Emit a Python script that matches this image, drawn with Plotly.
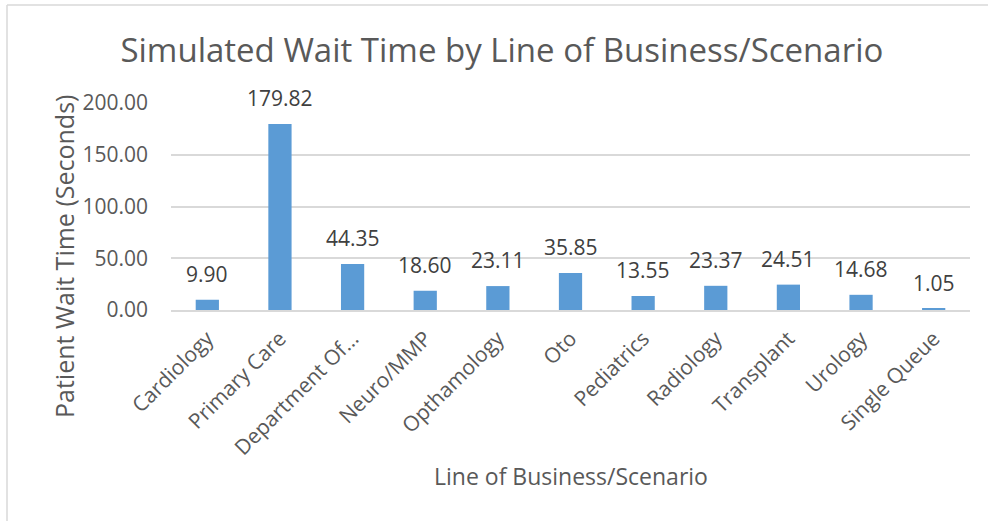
import plotly.graph_objects as go

# Wait time per line of business / scenario
categories = ["Cardiology", "Primary Care", "Department Of...", "Neuro/MMP", "Opthamology",
              "Oto", "Pediatrics", "Radiology", "Transplant", "Urology", "Single Queue"]
wait_seconds = [9.90, 179.82, 44.35, 18.60, 23.11, 35.85, 13.55, 23.37, 24.51, 14.68, 1.05]
y_ticks = [0, 50, 100, 150, 200]
y_tick_labels = ["0.00", "50.00", "100.00", "150.00", "200.00"]

W, H = 988, 521
L, R, T, B = 171, 18, 103, 211
plot_w = W - L - R
plot_h = H - T - B

def px_x(p):
    return (p - L) / plot_w

def px_y(q):
    return (H - B - q) / plot_h

FONT = "Open Sans"
GREY = "#595959"
FRAME = "#D9D9D9"

fig = go.Figure(go.Bar(
    x=categories,
    y=wait_seconds,
    marker=dict(color="#5B9BD5", line=dict(width=0)),
    width=0.32,
    cliponaxis=False,
))

# Value labels above each bar
for cat, val in zip(categories, wait_seconds):
    fig.add_annotation(x=cat, y=val, text=f"{val:.2f}", showarrow=False,
                       xanchor="center", yanchor="bottom", yshift=10,
                       font=dict(family=FONT, size=21, color="#404040"))

fig.update_layout(
    width=W, height=H,
    margin=dict(l=L, r=R, t=T, b=B),
    paper_bgcolor="white",
    plot_bgcolor="white",
    showlegend=False,
    font=dict(family=FONT, color=GREY),
    title=dict(
        text="Simulated Wait Time by Line of Business/Scenario",
        font=dict(family=FONT, size=33, color=GREY),
        x=0.508, xanchor="center",
        y=1 - 50 / H, yanchor="middle",
    ),
    xaxis=dict(
        tickangle=-45,
        tickfont=dict(family=FONT, size=21, color=GREY),
        showline=True, linecolor=FRAME, linewidth=2,
        showgrid=False, ticks="",
        ticklabelstandoff=6,
    ),
    yaxis=dict(
        range=[0, 200],
        tickvals=y_ticks, ticktext=y_tick_labels,
        tickfont=dict(family=FONT, size=21, color=GREY),
        showgrid=True, gridcolor=FRAME, gridwidth=1.5,
        zeroline=False, showline=False, ticks="",
        ticklabelstandoff=22,
    ),
    bargap=0.68,
)

# Axis titles
fig.add_annotation(text="Line of Business/Scenario", xref="paper", yref="paper",
                   x=px_x(571), y=px_y(476), xanchor="center", yanchor="middle",
                   showarrow=False, font=dict(family=FONT, size=23, color=GREY))
fig.add_annotation(text="Patient Wait Time (Seconds)", xref="paper", yref="paper",
                   x=px_x(64), y=px_y(257), xanchor="center", yanchor="middle",
                   textangle=-90, showarrow=False,
                   font=dict(family=FONT, size=25, color=GREY))

# Chart frame: top and left edges
fig.add_shape(type="line", xref="paper", yref="paper",
              x0=px_x(7), x1=px_x(W + 5), y0=px_y(5), y1=px_y(5),
              line=dict(color=FRAME, width=1.5))
fig.add_shape(type="line", xref="paper", yref="paper",
              x0=px_x(7), x1=px_x(7), y0=px_y(5), y1=px_y(H + 5),
              line=dict(color=FRAME, width=1.5))

fig.write_html("out.html")
